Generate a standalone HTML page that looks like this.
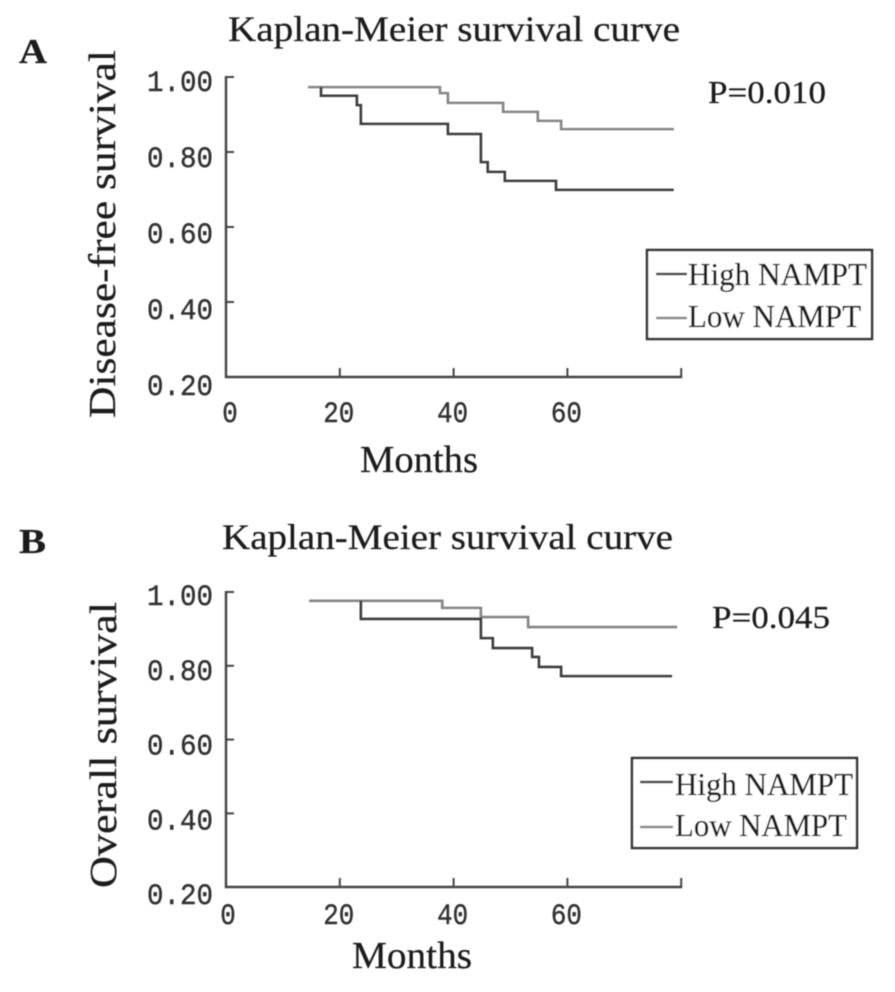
<!DOCTYPE html>
<html lang="en">
<head>
<meta charset="utf-8">
<title>Kaplan-Meier survival curves</title>
<style>
html,body{margin:0;padding:0;background:#fff}
svg{display:block}
.serif{font-family:"Liberation Serif",serif;fill:#1c1c1c;stroke:#1c1c1c;stroke-width:0.25}
.mono{font-family:"Liberation Mono",monospace;fill:#333;stroke:#333;stroke-width:0.45;font-size:30px}
</style>
</head>
<body>
<svg id="chart" xmlns="http://www.w3.org/2000/svg" width="895" height="992" viewBox="0 0 895 992">
<defs><filter id="soft" x="-2%" y="-2%" width="104%" height="104%"><feGaussianBlur stdDeviation="0.55"/></filter></defs>
<rect width="895" height="992" fill="#fff"/>
<g id="root" filter="url(#soft)">
  <text class="serif" x="19" y="63" font-size="35" font-weight="bold" textLength="28" lengthAdjust="spacingAndGlyphs">A</text>
  <text class="serif" x="228" y="41" font-size="36" textLength="452" lengthAdjust="spacingAndGlyphs">Kaplan-Meier survival curve</text>
  <text class="serif" transform="translate(115,418) rotate(-90)" x="0" y="0" font-size="38" textLength="368" lengthAdjust="spacingAndGlyphs">Disease-free survival</text>
  <text class="serif" x="360" y="472" font-size="38" textLength="118" lengthAdjust="spacingAndGlyphs">Months</text>
  <text class="serif" x="708" y="103" font-size="32" textLength="118" lengthAdjust="spacingAndGlyphs">P=0.010</text>
  <g>
    <rect x="647" y="250" width="225" height="89" fill="#fff" stroke="#333" stroke-width="2.5"/>
    <line x1="656" y1="274" x2="687" y2="274" stroke="#444" stroke-width="2.5"/>
    <text class="serif" x="688" y="285" font-size="32" textLength="179" lengthAdjust="spacingAndGlyphs">High NAMPT</text>
    <line x1="656" y1="318" x2="687" y2="318" stroke="#888" stroke-width="2.5"/>
    <text class="serif" x="688" y="327" font-size="32" textLength="173" lengthAdjust="spacingAndGlyphs">Low NAMPT</text>
  </g>

  <text class="serif" x="19" y="553" font-size="35" font-weight="bold" textLength="27" lengthAdjust="spacingAndGlyphs">B</text>
  <text class="serif" x="222" y="549" font-size="36" textLength="451" lengthAdjust="spacingAndGlyphs">Kaplan-Meier survival curve</text>
  <text class="serif" transform="translate(116,888) rotate(-90)" x="0" y="0" font-size="38" textLength="286" lengthAdjust="spacingAndGlyphs">Overall survival</text>
  <text class="serif" x="352" y="968" font-size="38" textLength="120" lengthAdjust="spacingAndGlyphs">Months</text>
  <text class="serif" x="712" y="628" font-size="32" textLength="118" lengthAdjust="spacingAndGlyphs">P=0.045</text>
  <g>
    <rect x="632" y="758" width="225" height="90" fill="#fff" stroke="#333" stroke-width="2.5"/>
    <line x1="640" y1="782" x2="673" y2="782" stroke="#444" stroke-width="2.5"/>
    <text class="serif" x="675" y="795" font-size="32" textLength="178" lengthAdjust="spacingAndGlyphs">High NAMPT</text>
    <line x1="640" y1="827" x2="673" y2="827" stroke="#888" stroke-width="2.5"/>
    <text class="serif" x="675" y="836" font-size="32" textLength="172" lengthAdjust="spacingAndGlyphs">Low NAMPT</text>
  </g>
</g>
</svg>
<script>
// Axis tick values and labels
const yTickValues = [1.0, 0.8, 0.6, 0.4, 0.2];
const yTickLabels = ['1.00', '0.80', '0.60', '0.40', '0.20'];
const xTickValues = [0, 20, 40, 60, 80];
const xTickLabels = ['0', '20', '40', '60', ''];

// Panel A: disease-free survival (step times in months, survival fractions)
const dfsLowMonths = [14.4, 37.6, 39.0, 48.7, 54.8, 58.9, 78.7];
const dfsLowSurvival = [0.973, 0.957, 0.931, 0.907, 0.883, 0.861, 0.861];
const dfsHighMonths = [16.7, 23.0, 23.7, 39.0, 44.8, 46.0, 49.0, 58.0, 78.7];
const dfsHighSurvival = [0.950, 0.925, 0.875, 0.848, 0.773, 0.747, 0.723, 0.699, 0.699];
const dfsHighStart = 0.973;

// Panel B: overall survival
const osLowMonths = [14.6, 38.0, 44.8, 53.1, 79.3];
const osLowSurvival = [0.976, 0.957, 0.932, 0.905, 0.905];
const osHighMonths = [23.7, 44.8, 46.9, 53.8, 55.0, 58.9, 78.4];
const osHighSurvival = [0.927, 0.875, 0.848, 0.824, 0.797, 0.772, 0.772];
const osHighStart = 0.976;

const NS = 'http://www.w3.org/2000/svg';
const root = document.getElementById('root');

function xScale(m) { return 226 + m * 5.69; }

function make(tag, attrs, parent) {
  const el = document.createElementNS(NS, tag);
  for (const k in attrs) el.setAttribute(k, attrs[k]);
  parent.appendChild(el);
  return el;
}

function stepPath(months, survival, yScale, startValue) {
  let prev = startValue === undefined ? survival[0] : startValue;
  let d = 'M' + xScale(months[0]) + ' ' + yScale(prev);
  for (let i = 0; i < months.length; i++) {
    d += 'H' + xScale(months[i]) + 'V' + yScale(survival[i]);
  }
  return d;
}

function drawPanel(prefix, yScale, yLabelBase, yLabelScale, xBase, axisBottom, lowM, lowS, highM, highS, highStart, zeroX) {
  const g = make('g', {}, root);
  
  

  const yAxis = make('line', {x1: xScale(0), x2: xScale(0), y1: yScale(1) - 1, y2: axisBottom + 1, stroke: '#444', 'stroke-width': 2.4}, g);
  
  

  const xAxis = make('line', {x1: xScale(0) - 1, x2: xScale(80) + 1, y1: axisBottom, y2: axisBottom, stroke: '#444', 'stroke-width': 2.4}, g);
  
  

  yTickValues.forEach(function (v, i) {
    if (v > 0.2) {
      const t = make('line', {x1: xScale(0), x2: xScale(0) + 8, y1: yScale(v), y2: yScale(v), stroke: '#444', 'stroke-width': 2}, g);
      
      
    }
    const lab = make('text', {x: 147, y: yLabelBase + (1 - v) * yLabelScale, 'class': 'mono', textLength: 66, lengthAdjust: 'spacingAndGlyphs'}, g);
    lab.textContent = yTickLabels[i];
    
    
  });

  xTickValues.forEach(function (m, i) {
    if (m > 0) {
      const t = make('line', {x1: xScale(m), x2: xScale(m), y1: axisBottom, y2: axisBottom - 9, stroke: '#444', 'stroke-width': 2}, g);
      
      
    }
    if (xTickLabels[i]) {
      const cx = m === 0 ? zeroX : xScale(m) - 1;
      const lab = make('text', {x: cx, y: xBase, 'class': 'mono', 'text-anchor': 'middle', textLength: xTickLabels[i].length * 15.5, lengthAdjust: 'spacingAndGlyphs'}, g);
      lab.textContent = xTickLabels[i];
      
      
    }
  });

  const low = make('path', {d: stepPath(lowM, lowS, yScale), fill: 'none', stroke: '#858585', 'stroke-width': 2.6}, g);
  
  

  const high = make('path', {d: stepPath(highM, highS, yScale, highStart), fill: 'none', stroke: '#3c3c3c', 'stroke-width': 2.6}, g);
  
  
}

function yScaleA(v) { return 77 + (1 - v) * 375; }
function yScaleB(v) { return 592 + (1 - v) * 369; }

drawPanel('panel-a', yScaleA, 91, 380, 422, 377, dfsLowMonths, dfsLowSurvival, dfsHighMonths, dfsHighSurvival, dfsHighStart, 230);
drawPanel('panel-b', yScaleB, 605, 374, 924, 887, osLowMonths, osLowSurvival, osHighMonths, osHighSurvival, osHighStart, 228);
</script>
</body>
</html>
